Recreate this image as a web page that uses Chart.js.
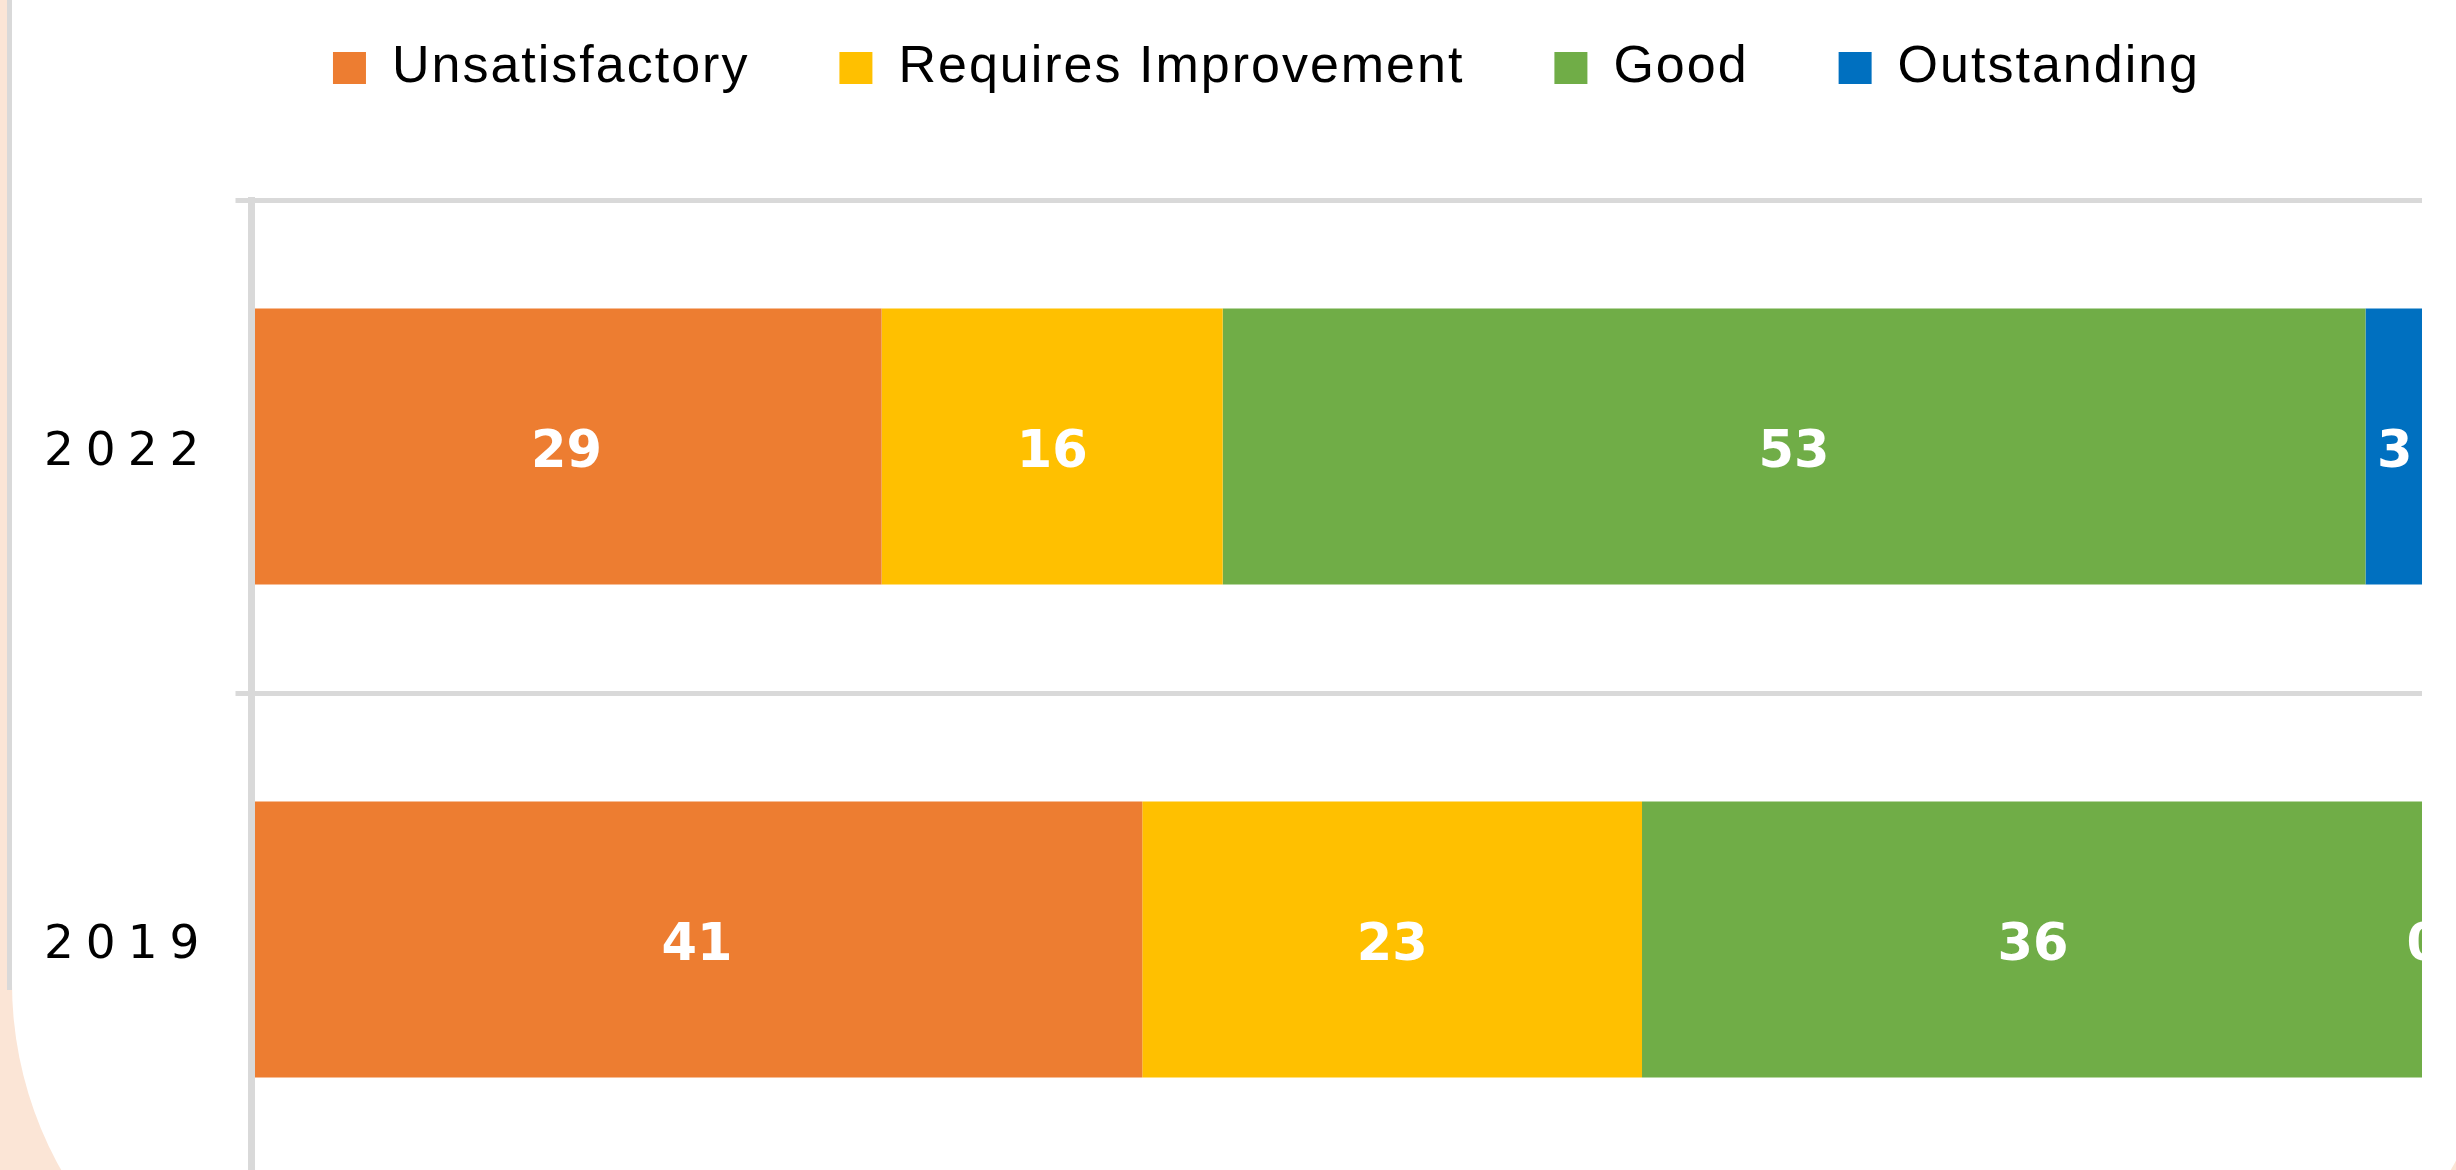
<!DOCTYPE html>
<html>
<head>
<meta charset="utf-8">
<script src="https://cdn.jsdelivr.net/npm/chart.js@4.4.1/dist/chart.umd.min.js"></script>
<style>
    html, body {
        margin: 0;
        padding: 0;
        width: 2456px;
        height: 1170px;
        overflow: hidden;
        background: #fbe5d6;
    }
    /* carte blanche avec les coins arrondis en bas */
    #card {
        position: absolute;
        left: 12px;
        top: -40px;
        width: 2488px;
        height: 1404px;
        background: #ffffff;
        border-bottom-left-radius: 381px;
        border-bottom-right-radius: 381px;
    }
    /* bordure grise à gauche */
    #edge {
        position: absolute;
        left: 7px;
        top: 0;
        width: 5px;
        height: 990px;
        background: #d9d9d9;
    }
    #chart {
        position: absolute;
        left: 0;
        top: 0;
    }
</style>
</head>
<body>
<div id="card"></div>
<div id="edge"></div>
<canvas id="chart" width="2456" height="1186"></canvas>
<script>
// Données du graphique (en %, étiquettes arrondies)
const years = ['2022', '2019'];
const seriesNames = ['Unsatisfactory', 'Requires Improvement', 'Good', 'Outstanding'];
const unsatisfactory = [29.0, 41.0];
const requiresImprovement = [15.7, 23.0];
const good = [52.6, 36.0];
const outstanding = [2.7, 0];
const xMax = 99.9; // le graphique d'origine est coupé juste avant 100

const seriesColors = ['#ed7d31', '#ffc000', '#70ad47', '#0070c0'];
const legendSpacing = '2px';

// Étiquettes de valeur + libellés des années (espacés)
const barLabels = {
    id: 'barLabels',
    beforeLayout(chart) {
        chart.ctx.letterSpacing = legendSpacing;
    },
    beforeDraw(chart) {
        chart.ctx.letterSpacing = legendSpacing;
    },
    afterDatasetsDraw(chart) {
        const { ctx, chartArea, scales } = chart;

        ctx.save();
        ctx.beginPath();
        ctx.rect(chartArea.left, chartArea.top, chartArea.right - chartArea.left, chartArea.bottom - chartArea.top);
        ctx.clip();
        ctx.letterSpacing = '0px';
        ctx.font = 'bold 51px "DejaVu Sans"';
        ctx.fillStyle = '#ffffff';
        ctx.textAlign = 'center';
        ctx.textBaseline = 'middle';
        chart.data.datasets.forEach((ds, i) => {
            chart.getDatasetMeta(i).data.forEach((bar, j) => {
                ctx.fillText(String(Math.round(ds.data[j])), (bar.x + bar.base) / 2, bar.y + 7);
            });
        });
        ctx.restore();

        ctx.save();
        ctx.letterSpacing = '12px';
        ctx.font = '47px "DejaVu Sans"';
        ctx.fillStyle = '#000000';
        ctx.textAlign = 'right';
        ctx.textBaseline = 'middle';
        years.forEach((year, i) => {
            ctx.fillText(year, chartArea.left - 40, scales.y.getPixelForValue(i) + 6);
        });
        ctx.restore();
    }
};

const seriesData = [unsatisfactory, requiresImprovement, good, outstanding];

const ctx = document.getElementById('chart').getContext('2d');
new Chart(ctx, {
    type: 'bar',
    data: {
        labels: years,
        datasets: seriesNames.map((name, i) => ({
            label: name,
            data: seriesData[i],
            backgroundColor: seriesColors[i],
            borderWidth: 0,
            categoryPercentage: 0.56,
            barPercentage: 1
        }))
    },
    options: {
        indexAxis: 'y',
        responsive: false,
        animation: false,
        devicePixelRatio: 1,
        layout: {
            padding: { left: 111, right: 34, top: -48, bottom: 0 }
        },
        plugins: {
            legend: {
                position: 'top',
                labels: {
                    boxWidth: 33,
                    boxHeight: 32,
                    padding: 90,
                    color: '#000000',
                    font: { family: '"Liberation Sans", Arial, sans-serif', size: 52 }
                }
            },
            tooltip: { enabled: false }
        },
        scales: {
            x: {
                stacked: true,
                position: 'top',
                min: 0,
                max: xMax,
                ticks: { display: false },
                grid: { display: false, drawTicks: false },
                border: { display: false },
                afterFit(scale) {
                    scale.height = 96;
                }
            },
            y: {
                stacked: true,
                position: 'left',
                ticks: { display: false },
                grid: {
                    color: '#d9d9d9',
                    lineWidth: 5,
                    tickLength: 16,
                    offset: true,
                    drawTicks: true
                },
                border: { display: true, color: '#d9d9d9', width: 7, z: 1 },
                afterFit(scale) {
                    scale.width = 140.5;
                }
            }
        }
    },
    plugins: [barLabels]
});
</script>
</body>
</html>
